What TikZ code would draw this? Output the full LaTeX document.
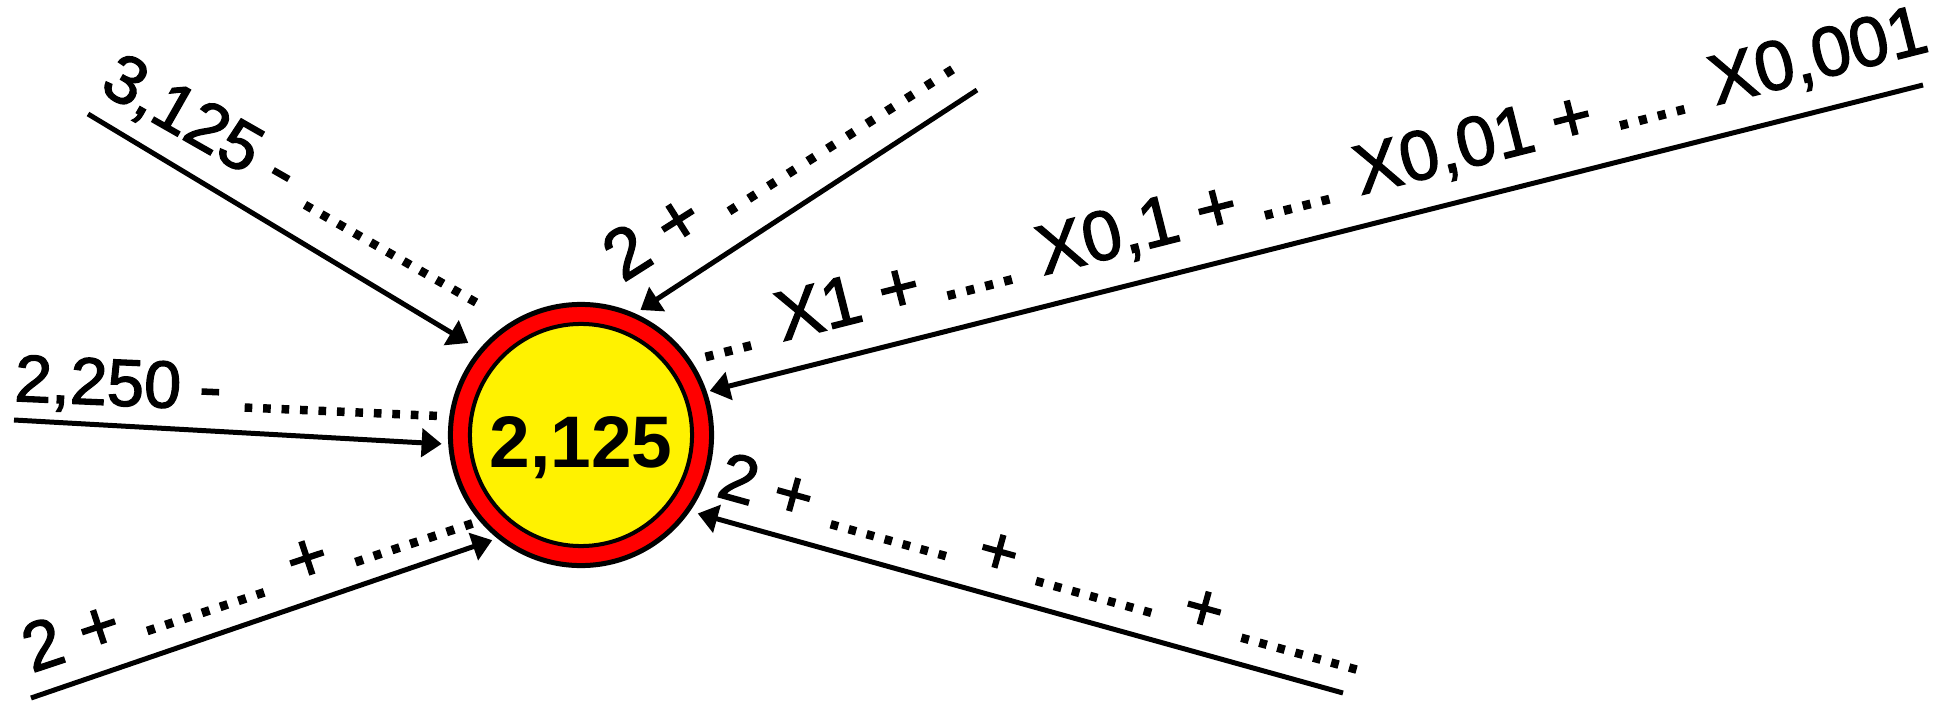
\documentclass[tikz,border=0pt]{standalone}
\usepackage{fontspec}
\setmainfont{Liberation Sans}
\newfontfamily\lblfont{Liberation Sans}[FakeBold=2]
\usetikzlibrary{arrows.meta}
\newcommand\drow[2]{\foreach \k in {1,...,#1}{\makebox[#2]{.}}}
\newcommand\lblsize[1]{\lblfont\fontsize{#1}{#1}\selectfont}
\begin{document}
\begin{tikzpicture}[x=0.01cm,y=-0.01cm,
  conn/.style={line width=1.42pt,-{Triangle[length=0.2cm,width=0.28cm]}},
  lbl/.style={anchor=base west, inner sep=0pt, outer sep=0pt},
  ring/.style={circle, draw=black, line width=1.42pt, fill=red, minimum size=2.61cm, inner sep=0pt},
  core/.style={circle, draw=black, line width=1.14pt, fill=yellow, minimum size=2.22cm, inner sep=0pt}]
\useasboundingbox (0,0) rectangle (1941,703);
% central circle
\node[ring] (c) at (581,435) {};
\node[core] (ci) at (581,435) {};
\node[anchor=base, inner sep=0pt] (t) at (581,467) {\fontsize{20.77pt}{20.77pt}\selectfont\bfseries 2,125};
% free ends
\coordinate (s1) at (88,114);
\coordinate (s2) at (14,420);
\coordinate (s3) at (31,698);
\coordinate (s4) at (977,90);
\coordinate (s5) at (1923,85);
\coordinate (s6) at (1343,693);
% connectors
\draw[conn, shorten >=0.125cm] (s1) -- (c.140);
\draw[conn, shorten >=0.066cm] (s2) -- (c.184);
\draw[conn, shorten >=0.053cm] (s3) -- (c.231);
\draw[conn, shorten >=0.063cm] (s4) -- (c.66);
\draw[conn, shorten >=0.03cm] (s5) -- (c.19);
\draw[conn, shorten >=0.08cm] (s6) -- (c.325);
% labels
\node[lbl, rotate=-29.7] (l1) at (98,91) {\lblsize{19.35pt}3,125 - ...........};
\node[lbl, rotate=-2.5] (l2) at (14,401) {\lblsize{18.9pt}2,250 - ...........};
\node[lbl, rotate=18.3] (l3) at (32,673) {\lblsize{19.63pt}2 + ....... + .......};
\node[lbl, rotate=32.4] (l4) at (623,283) {\lblsize{20.2pt}2 + \drow{12}{0.233cm}};
\node[lbl, rotate=14.2] (l5) at (701,362) {\lblsize{19.9pt}... X1 + .... X0,1 + .... X0,01 + .... X0,001};
\node[lbl, rotate=-15.45] (l6) at (715,496) {\lblsize{19.06pt}2 + ....... + ....... + .......};
\end{tikzpicture}
\end{document}
